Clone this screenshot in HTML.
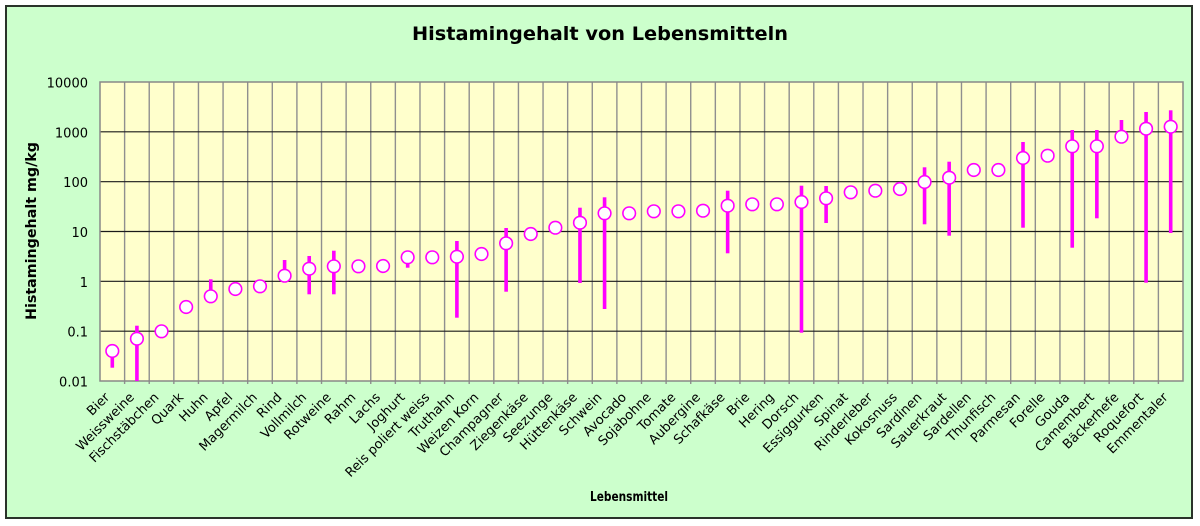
<!DOCTYPE html>
<html><head><meta charset="utf-8"><style>
html,body{margin:0;padding:0;background:#fff;}
svg{display:block;}
text{font-family:"DejaVu Sans","Liberation Sans",sans-serif;fill:#000;}
</style></head><body>
<svg width="1200" height="526" viewBox="0 0 1200 526" xmlns="http://www.w3.org/2000/svg">
<rect x="0" y="0" width="1200" height="526" fill="#ffffff"/>
<rect x="6" y="6" width="1186" height="512" fill="#ccffcc" stroke="#2a332a" stroke-width="2"/>
<text x="600" y="40" text-anchor="middle" font-size="19" font-weight="bold" fill="#0d1a0d" textLength="376" lengthAdjust="spacingAndGlyphs">Histamingehalt von Lebensmitteln</text>
<rect x="100" y="82" width="1083" height="299" fill="#ffffcc"/>
<g id="vgrid" stroke="#8f8f8f" stroke-width="1.4"></g>
<g stroke="#1a1a1a" stroke-width="1.2">
<line x1="100" y1="131.8" x2="1183" y2="131.8"/>
<line x1="100" y1="181.7" x2="1183" y2="181.7"/>
<line x1="100" y1="231.5" x2="1183" y2="231.5"/>
<line x1="100" y1="281.3" x2="1183" y2="281.3"/>
<line x1="100" y1="331.2" x2="1183" y2="331.2"/>
</g>
<rect x="100" y="82" width="1083" height="299" fill="none" stroke="#888" stroke-width="1.5"/>
<g font-size="13" text-anchor="end">
<text x="88" y="87.5">10000</text>
<text x="88" y="137.3">1000</text>
<text x="88" y="187.2">100</text>
<text x="88" y="237">10</text>
<text x="88" y="286.8">1</text>
<text x="88" y="336.7">0.1</text>
<text x="88" y="386.5">0.01</text>
</g>
<text transform="translate(36,231) rotate(-90)" text-anchor="middle" font-size="14" font-weight="bold" textLength="178" lengthAdjust="spacingAndGlyphs">Histamingehalt mg/kg</text>
<text x="629" y="501" text-anchor="middle" font-size="13" font-weight="bold" textLength="78" lengthAdjust="spacingAndGlyphs">Lebensmittel</text>
<g id="bars" fill="#ff00ff"></g>
<g id="dots" fill="#ffffff" stroke="#ff00ff" stroke-width="1.6"></g>
<g id="labels" font-size="13" text-anchor="end"></g>
<script>
(function(){
var NS="http://www.w3.org/2000/svg";
var names=["Bier","Weissweine","Fischstäbchen","Quark","Huhn","Apfel","Magermilch","Rind","Vollmilch","Rotweine","Rahm","Lachs","Joghurt","Reis poliert weiss","Truthahn","Weizen Korn","Champagner","Ziegenkäse","Seezunge","Hüttenkäse","Schwein","Avocado","Sojabohne","Tomate","Aubergine","Schafkäse","Brie","Hering","Dorsch","Essiggurken","Spinat","Rinderleber","Kokosnuss","Sardinen","Sauerkraut","Sardellen","Thunfisch","Parmesan","Forelle","Gouda","Camembert","Bäckerhefe","Roquefort","Emmentaler"];
var d=[[351,351,367.7],[338.7,325.7,381],[331.3],[307],[296.3,279.3,296.3],[289],[286.3],[275.7,260,275.7],[268.7,256,294.3],[266.3,250.7,294.3],[266.3],[266],[257.3,257.3,267.7],[257.3],[256.7,241,317.7],[254],[243.3,228,291.7],[234],[227.7],[222.7,207.7,283],[213.3,197.3,309],[213.3],[211.3],[211.3],[210.7],[205.7,190.7,253.3],[204.3],[204.3],[202,185.7,332.7],[198.3,186,223],[192.3],[190.7],[189],[182,167.3,224.3],[177.7,161.7,235.7],[170],[170],[158,142,227.7],[155.7],[146.3,130,247.7],[146.3,130,218.3],[136.7,120,136.7],[128.7,112,282.7],[126.7,110.3,233]];
var w=1083/44;
var vg=document.getElementById("vgrid"),bars=document.getElementById("bars"),dots=document.getElementById("dots"),labs=document.getElementById("labels");
for(var k=1;k<44;k++){var x=100+w*k;var l=document.createElementNS(NS,"line");l.setAttribute("x1",x);l.setAttribute("x2",x);l.setAttribute("y1",82);l.setAttribute("y2",384);vg.appendChild(l);}
for(var i=0;i<44;i++){
 var cx=100+w*(i+0.5);var r=d[i];
 if(r.length>1){var b=document.createElementNS(NS,"rect");b.setAttribute("x",cx-1.8);b.setAttribute("width",3.6);b.setAttribute("y",r[1]);b.setAttribute("height",Math.max(0,r[2]-r[1]));bars.appendChild(b);}
 var c=document.createElementNS(NS,"circle");c.setAttribute("cx",cx);c.setAttribute("cy",r[0]);c.setAttribute("r",6.3);dots.appendChild(c);
 var t=document.createElementNS(NS,"text");var ax=cx-2,ay=398;t.setAttribute("transform","translate("+ax+","+ay+") rotate(-45)");t.textContent=names[i];labs.appendChild(t);
}
})();
</script>
</svg>
</body></html>
